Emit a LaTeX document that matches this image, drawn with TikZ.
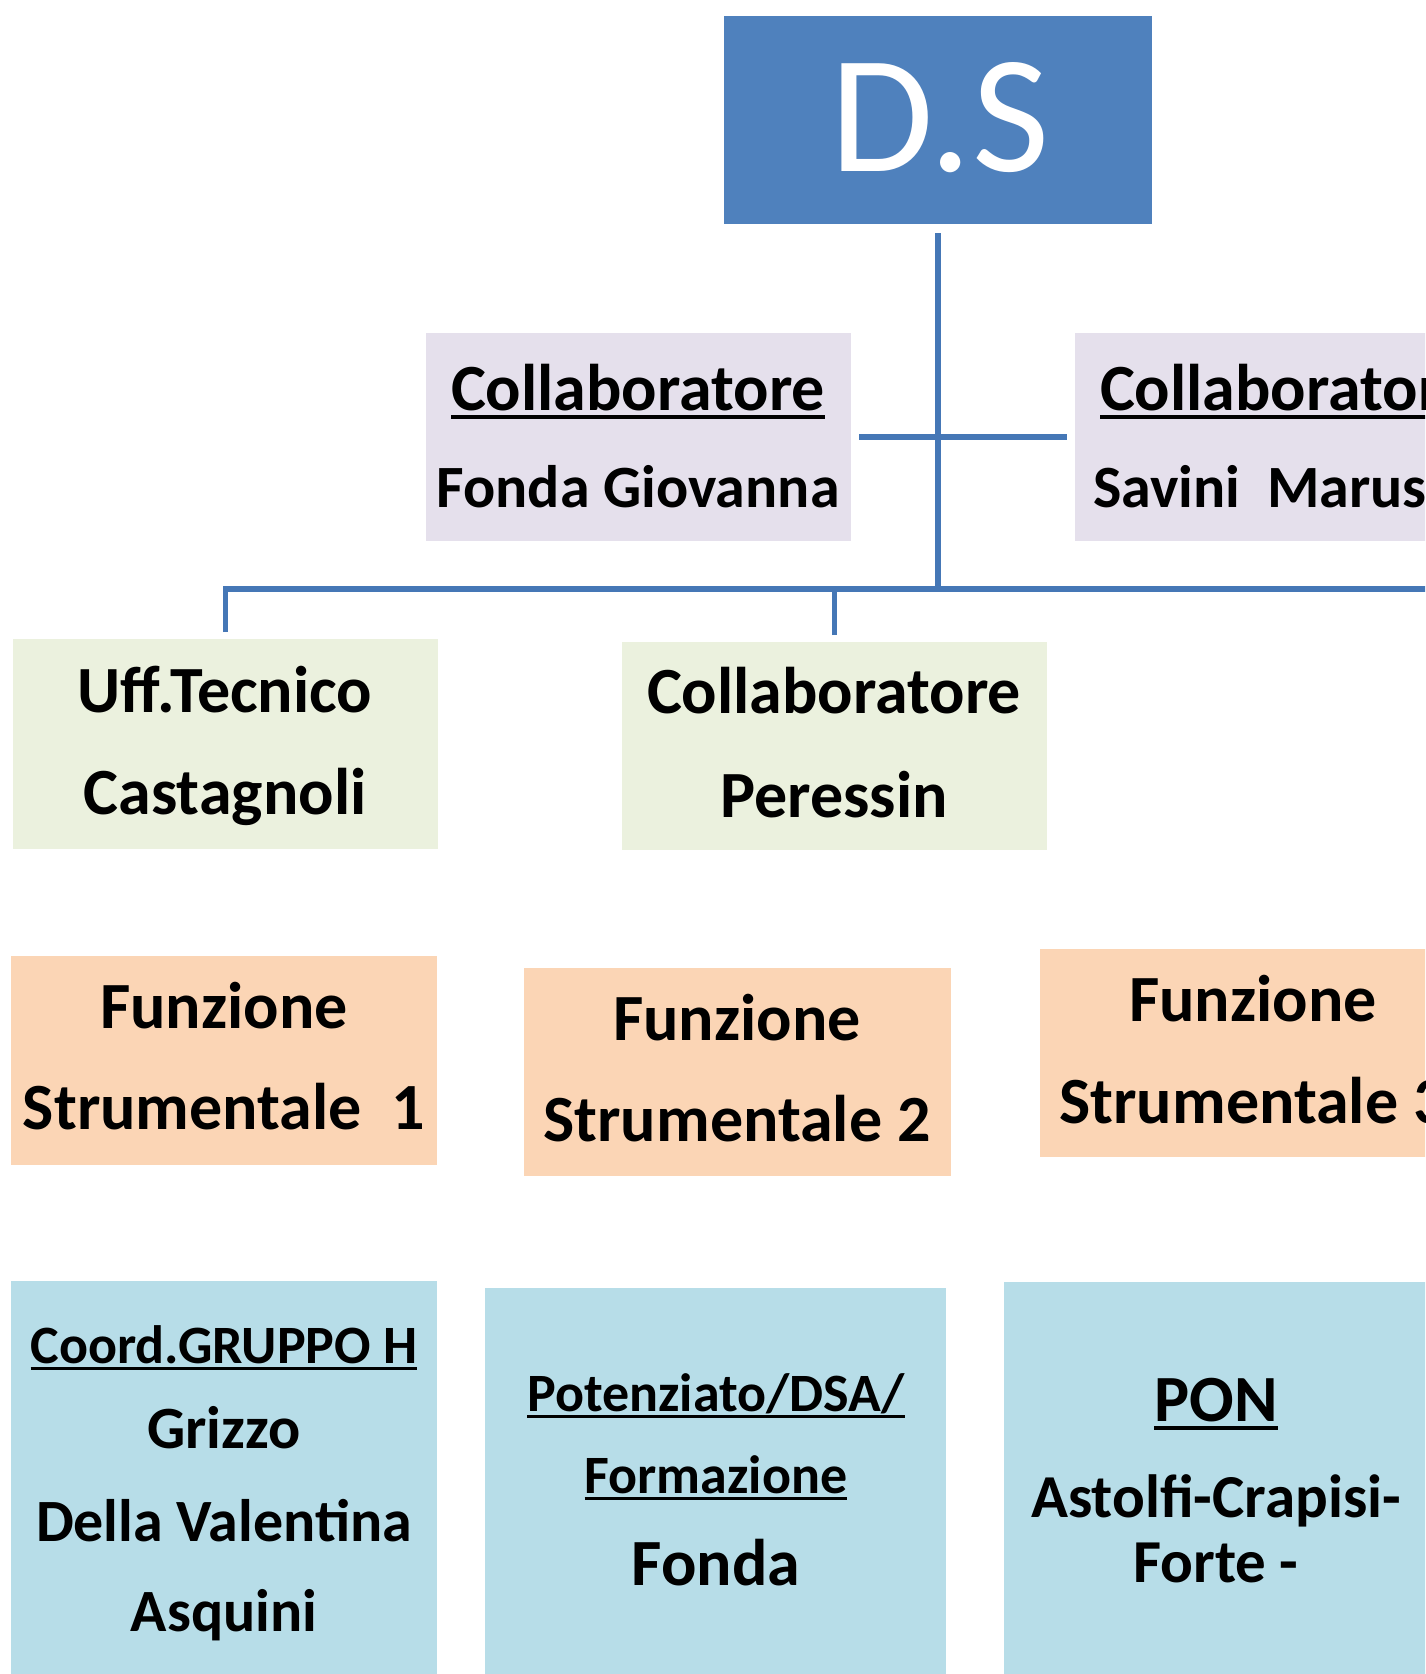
\documentclass[tikz,border=0pt]{standalone}
\usepackage{fontspec}
\setmainfont{Carlito}
\definecolor{dsblue}{HTML}{4F81BD}
\definecolor{linkblue}{HTML}{4577B6}
\definecolor{lav}{HTML}{E5E0EC}
\definecolor{sage}{HTML}{EBF1DE}
\definecolor{peach}{HTML}{FBD5B5}
\definecolor{ltblue}{HTML}{B7DDE8}
\newcommand\ulx[1]{\setbox0=\hbox{#1}\rlap{\rule[-0.13em]{\wd0}{0.055em}}\box0}
\begin{document}
\begin{tikzpicture}[x=1pt,y=-1pt,
  orgbox/.style={rectangle, inner sep=0pt, outer sep=0pt, draw=none},
  link/.style={draw=linkblue, line width=5.5pt},
  lbl/.style={anchor=base, inner sep=0pt, outer sep=0pt},
  tA/.style={lbl, font=\bfseries\fontsize{66}{70}\selectfont},
  tB/.style={lbl, font=\bfseries\fontsize{60}{64}\selectfont},
  tC/.style={lbl, font=\bfseries\fontsize{54}{58}\selectfont},
  tD/.style={lbl, font=\bfseries\fontsize{61}{64}\selectfont}]
\useasboundingbox (0,0) rectangle (1425,1674);
\clip (0,0) rectangle (1425,1674);
\fill[white] (0,0) rectangle (1425,1674);

% boxes
\node[orgbox, fill=dsblue, minimum width=428pt, minimum height=208pt] (ds) at (938,120) {};
\node[orgbox, fill=lav, minimum width=425pt, minimum height=208pt] (c1) at (638.5,437) {};
\node[orgbox, fill=lav, minimum width=425pt, minimum height=208pt] (c2) at (1287.5,437) {};
\node[orgbox, fill=sage, minimum width=425pt, minimum height=210pt] (uff) at (225.5,744) {};
\node[orgbox, fill=sage, minimum width=425pt, minimum height=208pt] (per) at (834.5,746) {};
\node[orgbox, fill=peach, minimum width=426pt, minimum height=209pt] (f1) at (224,1060.5) {};
\node[orgbox, fill=peach, minimum width=427pt, minimum height=208pt] (f2) at (737.5,1072) {};
\node[orgbox, fill=peach, minimum width=425pt, minimum height=208pt] (f3) at (1252.5,1053) {};
\node[orgbox, fill=ltblue, minimum width=426pt, minimum height=420pt] (b1) at (224,1491) {};
\node[orgbox, fill=ltblue, minimum width=461pt, minimum height=420pt] (b2) at (715.5,1498) {};
\node[orgbox, fill=ltblue, minimum width=424pt, minimum height=420pt] (b3) at (1216,1492) {};

% connectors
\coordinate (barR) at (1440,589);
\draw[link] ([yshift=-9pt]ds.south) -- (ds.south |- barR);
\draw[link] ([yshift=7pt]uff.north) -- (uff.north |- barR) -- (barR);
\draw[link] ([yshift=7pt]per.north) -- (per.north |- barR);
\draw[link] ([xshift=8pt]c1.east) -- ([xshift=-8pt]c2.west);

% texts
\node[lbl, font=\fontsize{168}{170}\selectfont, text=white] (tds) at (940,171) {D.S};
\node[tA] (c1a) at (638,410) {\ulx{Collaboratore}};
\node[tB] (c1b) at (638,507) {Fonda Giovanna};
\node[tA] (c2a) at (1287,410) {\ulx{Collaboratore}};
\node[tB, anchor=base west] (c2b) at (1093,507) {Savini~~Marus};
\node[tA] (ua) at (225,712) {Uff.Tecnico};
\node[tA] (ub) at (225,814) {Castagnoli};
\node[tA] (pa) at (834,713) {Collaboratore};
\node[tA] (pb) at (834,817) {Peressin};
\node[tA] (f1a) at (224,1028) {Funzione};
\node[tA] (f1b) at (224,1129) {Strumentale~~1};
\node[tA] (f2a) at (737,1040) {Funzione};
\node[tA] (f2b) at (737,1141) {Strumentale 2};
\node[tA] (f3a) at (1253,1021) {Funzione};
\node[tA] (f3b) at (1253,1123) {Strumentale 3};
\node[tC] (b1a) at (224,1363) {\ulx{Coord.GRUPPO H}};
\node[tB] (b1b) at (224,1448) {Grizzo};
\node[tB] (b1c) at (224,1541) {Della Valentina};
\node[tB] (b1d) at (224,1631) {Asquini};
\node[tC] (b2a) at (716,1411) {\ulx{Potenziato/DSA/}};
\node[tC] (b2b) at (716,1493) {\ulx{Formazione}};
\node[tA] (b2c) at (716,1585) {Fonda};
\node[tA] (b3a) at (1216,1421) {\ulx{PON}};
\node[tD] (b3b) at (1216,1517) {Astolfi-Crapisi-};
\node[tD] (b3c) at (1216,1582) {Forte -};
\end{tikzpicture}
\end{document}
